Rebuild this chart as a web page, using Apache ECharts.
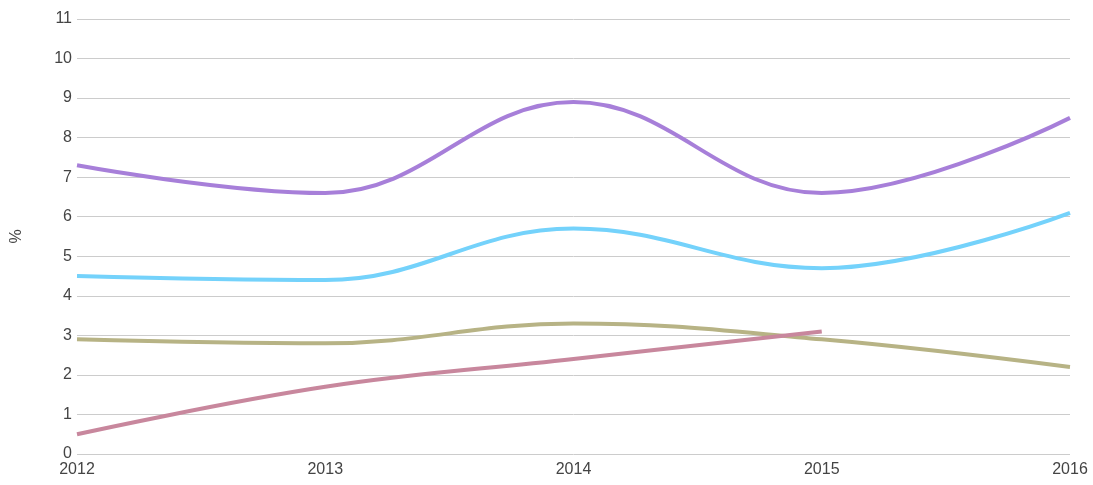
<!DOCTYPE html>
<html><head><meta charset="utf-8">
<script src="https://cdn.jsdelivr.net/npm/echarts@6/dist/echarts.min.js"></script>
<style>html,body{margin:0;padding:0;background:#fff}#c{width:1093px;height:485px}</style>
</head><body><div id="c"></div>
<script>
const categories = ['2012','2013','2014','2015','2016'];
const purpleValues = [7.3, 6.6, 8.9, 6.6, 8.5];
const blueValues = [4.5, 4.4, 5.7, 4.7, 6.1];
const khakiValues = [2.9, 2.8, 3.3, 2.9, 2.2];
const pinkValues = [0.5, 1.7, 2.4, 3.1, null];
const yTicks = [0,1,2,3,4,5,6,7,8,9,10,11];

function mk(name, data, color){
  return {name, type:'line', data, smooth:0.4, showSymbol:false, symbol:'none',
    lineStyle:{color, width:4}, itemStyle:{color}, connectNulls:false, animation:false};
}
const font = 'Liberation Sans, Arial, sans-serif';
const chart = echarts.init(document.getElementById('c'), null, {renderer:'canvas'});
chart.setOption({
  animation:false,
  grid:{left:77, right:23, top:19, bottom:31, containLabel:false, outerBoundsMode:'none'},
  xAxis:{type:'category', data:categories, boundaryGap:false,
    axisLine:{show:false}, axisTick:{show:false},
    axisLabel:{color:'#444', fontSize:16, fontFamily:font, margin:8,
      showMinLabel:true, showMaxLabel:true},
    splitLine:{show:false}},
  yAxis:{type:'value', min:0, max:11, interval:1, name:'%', nameLocation:'middle', nameGap:52,
    nameTextStyle:{color:'#444', fontSize:16, fontFamily:font},
    axisLine:{show:false}, axisTick:{show:false},
    axisLabel:{color:'#444', fontSize:16, fontFamily:font, margin:5,
      formatter:v=>yTicks.includes(v)?String(v):''},
    splitLine:{lineStyle:{color:'#cccccc', width:1}}},
  series:[
    mk('purple', purpleValues, '#a77fd9'),
    mk('blue', blueValues, '#74d2fb'),
    mk('khaki', khakiValues, '#b7b385'),
    mk('pink', pinkValues, '#c8879d')
  ]
});
</script></body></html>
